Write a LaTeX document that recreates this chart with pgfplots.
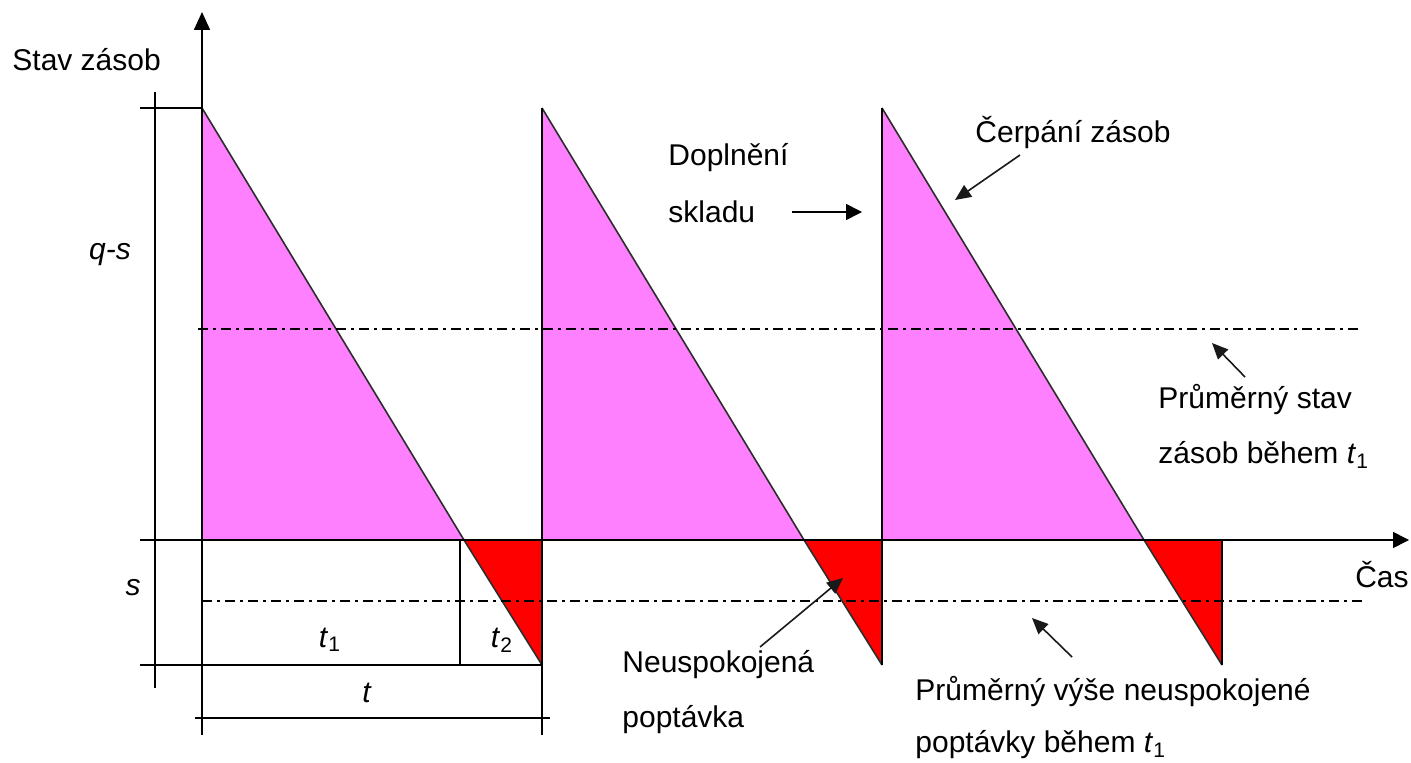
\documentclass[border=0pt]{standalone}
\usepackage{fontspec}
\setmainfont{Liberation Sans}
\usepackage{pgfplots}
\pgfplotsset{compat=1.18}
\usetikzlibrary{arrows.meta}
\definecolor{stockPink}{HTML}{FF80FF}
\definecolor{shortRed}{HTML}{FF0000}
\tikzset{txt/.style={font=\fontsize{15}{17}\selectfont, inner sep=0pt}}

\begin{document}
\begin{tikzpicture}
\begin{axis}[
  scale only axis, width=705.5pt, height=381pt,
  xmin=-202, xmax=1209, ymin=-222, ymax=540,
  hide axis, clip=false,
  every axis plot/.append style={line width=0.8pt}]

% zásoba (růžová) a nedostatek (červená)
\addplot[fill=stockPink, draw=none] coordinates {(0,0) (0,432) (262,0)} --cycle;
\addplot[fill=stockPink, draw=none] coordinates {(340,0) (340,432) (602,0)} --cycle;
\addplot[fill=stockPink, draw=none] coordinates {(680,0) (680,432) (942,0)} --cycle;
\addplot[fill=shortRed, draw=none] coordinates {(262,0) (340,0) (340,-125)} --cycle;
\addplot[fill=shortRed, draw=none] coordinates {(602,0) (680,0) (680,-125)} --cycle;
\addplot[fill=shortRed, draw=none] coordinates {(942,0) (1020,0) (1020,-125)} --cycle;

% pila
\addplot[gray!35!black] coordinates {(0,432) (262,0) (340,-125)};
\addplot[gray!35!black] coordinates {(340,432) (602,0) (680,-125)};
\addplot[gray!35!black] coordinates {(680,432) (942,0) (1020,-125)};

% svislé doplnění
\addplot[black] coordinates {(340,-195) (340,432)};
\addplot[black] coordinates {(680,-125) (680,432)};
\addplot[black] coordinates {(1020,-125) (1020,0)};

% osy
\addplot[black, -{Triangle[length=9pt,width=8pt]}] coordinates {(0,-195) (0,528)};
\addplot[black, -{Triangle[length=8pt,width=8pt]}] coordinates {(-62,0) (1207,0)};

% kóty
\addplot[black] coordinates {(-47,448) (-47,-148)};
\addplot[black] coordinates {(-62,432) (0,432)};
\addplot[black] coordinates {(-62,-125) (340,-125)};
\addplot[black] coordinates {(258,0) (258,-125)};
\addplot[black] coordinates {(-7,-178) (348,-178)};

% průměrné úrovně
\addplot[black, line width=1pt, dash pattern=on 5pt off 2.5pt on 1.5pt off 2.5pt] coordinates {(-4,211) (1160,211)};
\addplot[black, line width=1pt, dash pattern=on 5pt off 2.5pt on 1.5pt off 2.5pt] coordinates {(0,-61) (1160,-61)};

% šipky popisků
\addplot[black, -{Triangle[length=8pt,width=8pt]}] coordinates {(590,328) (660,328)};
\addplot[gray!20!black, -{Triangle[length=8pt,width=7pt]}] coordinates {(818,385) (753,340)};
\addplot[gray!20!black, -{Triangle[length=8pt,width=7pt]}] coordinates {(1043,163) (1010,197)};
\addplot[gray!20!black, -{Triangle[length=8pt,width=7pt]}] coordinates {(558,-107) (641,-38)};
\addplot[gray!20!black, -{Triangle[length=8pt,width=7pt]}] coordinates {(870,-117) (830,-78)};

% texty
\node[txt, anchor=west] at (axis cs:-190,480) {Stav zásob};
\node[txt] at (axis cs:-92,285) {\itshape q-s};
\node[txt] at (axis cs:-69,-48) {\itshape s};
\node[txt] at (axis cs:128,-100) {\textit{t}\textsubscript{1}};
\node[txt] at (axis cs:300,-100) {\textit{t}\textsubscript{2}};
\node[txt] at (axis cs:165,-153) {\textit{t}};
\node[txt, anchor=east] at (axis cs:1207,-35) {Čas};
\node[txt, anchor=west] at (axis cs:466,382) {Doplnění};
\node[txt, anchor=west] at (axis cs:466,328) {skladu};
\node[txt, anchor=west] at (axis cs:773,407) {Čerpání zásob};
\node[txt, anchor=west] at (axis cs:956,140) {Průměrný stav};
\node[txt, anchor=west] at (axis cs:956,85) {zásob během \textit{t}\textsubscript{1}};
\node[txt, anchor=west] at (axis cs:420,-125) {Neuspokojená};
\node[txt, anchor=west] at (axis cs:420,-180) {poptávka};
\node[txt, anchor=west] at (axis cs:713,-152) {Průměrný výše neuspokojené};
\node[txt, anchor=west] at (axis cs:713,-205) {poptávky během \textit{t}\textsubscript{1}};
\end{axis}
\pgfresetboundingbox
\path (current axis.south west) rectangle (current axis.north east);
\end{tikzpicture}
\end{document}
